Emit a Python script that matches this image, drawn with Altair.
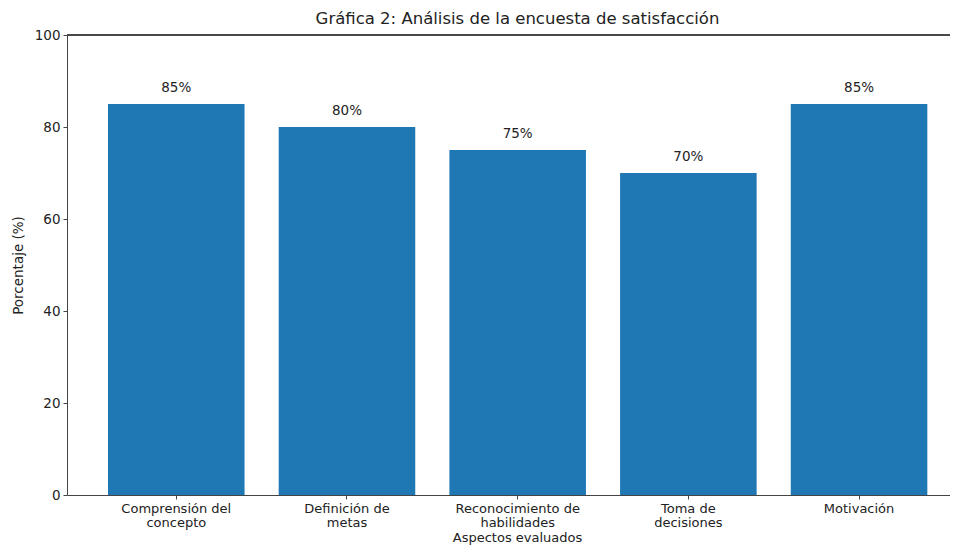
import altair as alt
import pandas as pd

categories = ["Comprensión del\nconcepto", "Definición de\nmetas", "Reconocimiento de\nhabilidades",
              "Toma de\ndecisiones", "Motivación"]
values = [85, 80, 75, 70, 85]

df = pd.DataFrame({"cat": categories, "val": values})

FONT = "DejaVu Sans"
AXC = "#444444"
TXT = "#222222"
FS = 13.5

x_enc = alt.X("cat:N", sort=None,
              scale=alt.Scale(paddingInner=0.2, paddingOuter=0.1865, align=0.644),
              axis=alt.Axis(title="Aspectos evaluados", labelAngle=0,
                            labelExpr="split(datum.value, '\\n')",
                            labelFont=FONT, labelFontSize=13, labelColor=TXT,
                            labelLineHeight=14, labelPadding=3, labelBaseline="top",
                            titleFont=FONT, titleFontSize=13, titleFontWeight="normal",
                            titleColor=TXT, titlePadding=2, titleX=450,
                            tickSize=4, tickColor=AXC, domainColor=AXC, grid=False))

y_scale = alt.Scale(domain=[0, 100])
y_enc = alt.Y("val:Q", scale=y_scale,
              axis=alt.Axis(title="Porcentaje (%)", values=[0, 20, 40, 60, 80, 100],
                            labelFont=FONT, labelFontSize=FS, labelColor=TXT,
                            labelPadding=3, tickSize=4, tickColor=AXC, domainColor=AXC,
                            titleFont=FONT, titleFontSize=FS, titleFontWeight="normal",
                            titleColor=TXT, titlePadding=9, grid=False))

base = alt.Chart(df)

bars = base.mark_bar(color="#1f77b4").encode(x=x_enc, y=y_enc)

texts = base.transform_calculate(lbl="datum.val + '%'").mark_text(
    font=FONT, fontSize=FS, color=TXT, dy=-16, baseline="middle"
).encode(x=alt.X("cat:N", sort=None), y=alt.Y("val:Q"), text="lbl:N")

top = alt.Chart(df).mark_rule(color=AXC, strokeWidth=1).encode(y=alt.datum(100))

chart = alt.layer(bars, texts, top).properties(
    width=883, height=460,
    autosize=alt.AutoSizeParams(type="none"),
    padding={"left": 59, "top": 27, "right": 0, "bottom": 53},
    title=alt.TitleParams("Gráfica 2: Análisis de la encuesta de satisfacción",
                          font=FONT, fontSize=16.5, fontWeight="normal", color=TXT,
                          offset=1, dx=9, anchor="middle"),
).configure_view(stroke=None).configure(background="white")

chart.save("out.html", embed_options={"renderer": "svg", "actions": False})
